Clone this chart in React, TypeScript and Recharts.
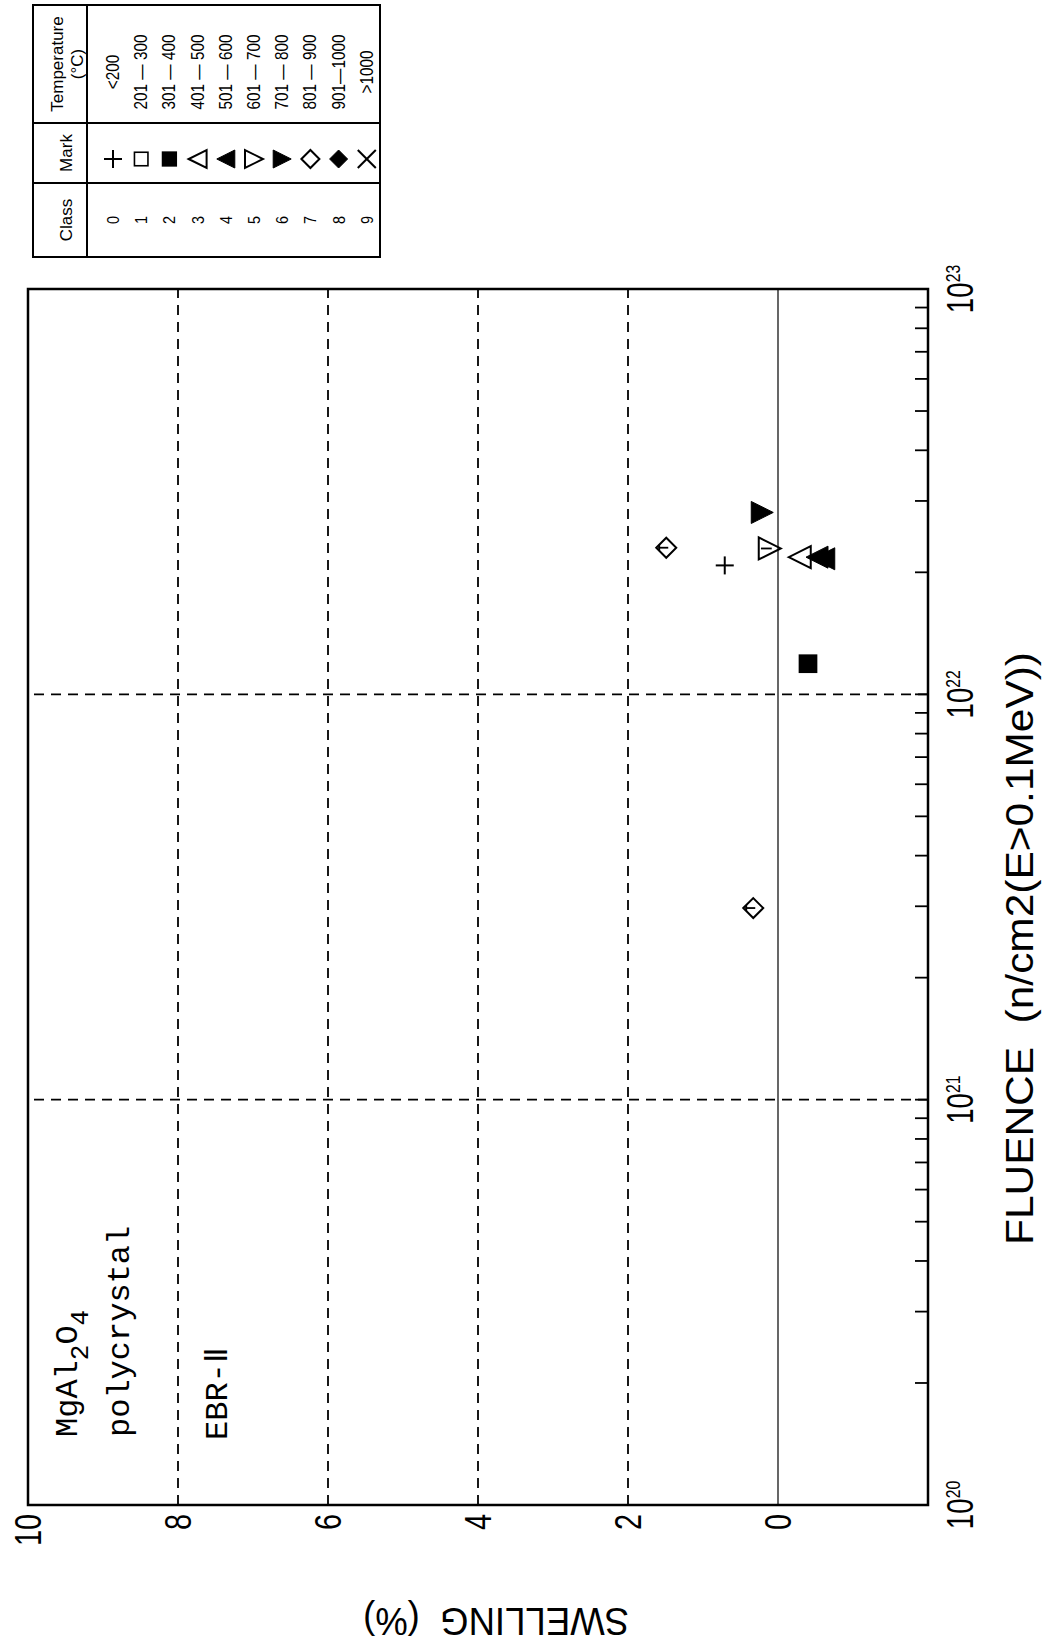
import React from 'react';
import { ScatterChart, Scatter, XAxis, YAxis, ReferenceLine, ReferenceArea } from 'recharts';

// fluence (n/cm2, E>0.1MeV), swelling (%) and temperature class of each point
const fluence = [2.3e22, 2.97e21, 2.08e22, 2.81e22, 2.29e22, 2.18e22, 2.18e22, 2.16e22, 1.19e22];
const swelling = [1.49, 0.33, 0.71, 0.21, 0.11, -0.29, -0.52, -0.61, -0.4];
const tempClass = [7, 7, 0, 6, 5, 3, 4, 4, 2];

// legend table
const classIds = [0, 1, 2, 3, 4, 5, 6, 7, 8, 9];
const tempRanges = [
  '<200', '201 — 300', '301 — 400', '401 — 500', '501 — 600',
  '601 — 700', '701 — 800', '801 — 900', '901—1000', '>1000',
];

// axes
const fluenceDecades = [1e20, 1e21, 1e22, 1e23];
const fluenceExponents = ['20', '21', '22', '23'];
const minorSteps = [2, 3, 4, 5, 6, 7, 8, 9];
const swellingTicks = [0, 2, 4, 6, 8, 10];
const swellingDashed = [2, 4, 6, 8];
const fluenceDashed = [1e21, 1e22];

const data = fluence.map((f, i) => ({ fluence: f, swelling: swelling[i], cls: tempClass[i] }));
const fluenceTicks = [
  ...fluenceDecades,
  ...fluenceDecades.slice(0, -1).flatMap((d) => minorSteps.map((m) => m * d)),
].sort((a, b) => a - b);

// the whole figure is drawn upright and then turned 90deg counter-clockwise
const W = 1649;
const H = 1045;
const FONT = '"Liberation Sans", Arial, sans-serif';
const MONO = '"Liberation Mono", "Courier New", monospace';

function Mark({ cls, cx, cy, r }: { cls: number; cx: number; cy: number; r: number }) {
  const sw = 2;
  const tri = (up: boolean) =>
    up
      ? `${cx},${cy - r} ${cx - r},${cy + r} ${cx + r},${cy + r}`
      : `${cx - r},${cy - r} ${cx + r},${cy - r} ${cx},${cy + r}`;
  const dia = `${cx},${cy - r} ${cx + r},${cy} ${cx},${cy + r} ${cx - r},${cy}`;
  switch (cls) {
    case 0:
      return (
        <g stroke="#000" strokeWidth={sw}>
          <line x1={cx - r} y1={cy} x2={cx + r} y2={cy} />
          <line x1={cx} y1={cy - r} x2={cx} y2={cy + r} />
        </g>
      );
    case 1:
      return <rect x={cx - r * 0.75} y={cy - r * 0.75} width={r * 1.5} height={r * 1.5} fill="none" stroke="#000" strokeWidth={1.6} />;
    case 2:
      return <rect x={cx - r * 0.85} y={cy - r * 0.85} width={r * 1.7} height={r * 1.7} fill="#000" />;
    case 3:
      return <polygon points={tri(true)} fill="none" stroke="#000" strokeWidth={sw} />;
    case 4:
      return <polygon points={tri(true)} fill="#000" stroke="#000" strokeWidth={1} />;
    case 5:
      return <polygon points={tri(false)} fill="none" stroke="#000" strokeWidth={sw} />;
    case 6:
      return <polygon points={tri(false)} fill="#000" stroke="#000" strokeWidth={1} />;
    case 7:
      return <polygon points={dia} fill="none" stroke="#000" strokeWidth={sw} />;
    case 8:
      return <polygon points={dia} fill="#000" stroke="#000" strokeWidth={1} />;
    default:
      return (
        <g stroke="#000" strokeWidth={sw}>
          <line x1={cx - r} y1={cy - r} x2={cx + r} y2={cy + r} />
          <line x1={cx - r} y1={cy + r} x2={cx + r} y2={cy - r} />
        </g>
      );
  }
}

const renderPoint = (props: any) => {
  const { cx, cy, payload } = props;
  const cls = payload.cls;
  const r = cls === 7 ? 10 : cls === 0 ? 9 : 11;
  return (
    <g>
      <Mark cls={cls} cx={cx} cy={cy} r={r} />
      {(cls === 7 || cls === 5) && (
        <g stroke="#000" strokeWidth={1.8}>
          <line x1={cx} y1={cy - r * 0.8} x2={cx} y2={cy + 2} />
          {cls === 7 && <line x1={cx - 3} y1={cy - r * 0.7} x2={cx + 3} y2={cy - r * 0.7} />}
        </g>
      )}
    </g>
  );
};

const FluenceTick = (props: any) => {
  const { x, y, payload } = props;
  const idx = fluenceDecades.indexOf(payload.value);
  return (
    <g>
      <line x1={x} y1={y} x2={x} y2={y - 13} stroke="#000" strokeWidth={1.8} />
      {idx >= 0 && (
        <g transform={`translate(${x},${y + 45}) scale(0.75,1)`}>
          <text textAnchor="middle" fill="#000" fontFamily={FONT}>
            <tspan fontSize={37}>10</tspan>
            <tspan fontSize={21} dy={-13}>{fluenceExponents[idx]}</tspan>
          </text>
        </g>
      )}
    </g>
  );
};

const SwellingTick = (props: any) => {
  const { x, y, payload } = props;
  return (
    <g transform={`translate(${x - 9},${y}) scale(0.78,1)`}>
      <text textAnchor="end" dy="0.36em" fontSize={37} fill="#000" fontFamily={FONT}>
        {payload.value}
      </text>
    </g>
  );
};

function Overlay() {
  const left = 1392;
  const right = 1644;
  const top = 33;
  const bottom = 380;
  const headBottom = 87;
  const col1 = 1466;
  const col2 = 1526;
  return (
    <svg width={W} height={H} style={{ position: 'absolute', left: 0, top: 0, pointerEvents: 'none' }}>
      {/* legend table */}
      <g stroke="#000" strokeWidth={2} fill="none">
        <rect x={left} y={top} width={right - left} height={bottom - top} />
        <line x1={left} y1={headBottom} x2={right} y2={headBottom} />
        <line x1={col1} y1={top} x2={col1} y2={bottom} />
        <line x1={col2} y1={top} x2={col2} y2={bottom} />
      </g>
      <g fontFamily={FONT} fill="#000" fontSize={17} textAnchor="middle">
        <text x={(left + col1) / 2} y={72}>Class</text>
        <text x={(col1 + col2) / 2} y={72}>Mark</text>
        <text x={(col2 + right) / 2} y={63}>Temperature</text>
        <text x={(col2 + right) / 2} y={83}>(°C)</text>
      </g>
      {classIds.map((c, i) => {
        const cy = 113 + 28.2 * i;
        return (
          <g key={c}>
            <g transform={`translate(${(left + col1) / 2},${cy + 6}) scale(0.85,1)`}>
              <text textAnchor="middle" fontSize={17} fontFamily={FONT} fill="#000">{c}</text>
            </g>
            <Mark cls={c} cx={(col1 + col2) / 2 - 6} cy={cy} r={9} />
            <g transform={`translate(${(col2 + right) / 2 - 8},${cy + 6}) scale(0.85,1)`}>
              <text textAnchor="middle" fontSize={18} fontFamily={FONT} fill="#000">{tempRanges[c]}</text>
            </g>
          </g>
        );
      })}

      {/* specimen note */}
      <g fontFamily={MONO} fontSize={32} fill="#000">
        <text x={212} y={77}>
          MgAl<tspan fontSize={26} dy={11}>2</tspan>
          <tspan dy={-11}>O</tspan>
          <tspan fontSize={26} dy={11}>4</tspan>
        </text>
        <text x={212} y={129}>polycrystal</text>
        <text x={209} y={227}>EBR-Ⅱ</text>
      </g>

      {/* axis titles */}
      <text x={404} y={1033} fontSize={39} fontFamily={FONT} fill="#000" textLength={593} lengthAdjust="spacingAndGlyphs">
        FLUENCE{'\u00a0\u00a0'}(n/cm2(E&gt;0.1MeV))
      </text>
      <text
        x={41}
        y={629}
        transform="rotate(-90 41 629)"
        fontSize={39}
        fontFamily={FONT}
        fill="#000"
        textLength={266}
        lengthAdjust="spacingAndGlyphs"
      >
        SWELLING{'\u00a0\u00a0'}(%)
      </text>
    </svg>
  );
}

export default function App() {
  return (
    <div style={{ position: 'absolute', left: 0, top: 0, width: H, height: W, overflow: 'hidden', background: '#fff' }}>
      <div
        style={{
          position: 'absolute',
          left: 0,
          top: 0,
          width: W,
          height: H,
          transformOrigin: '0 0',
          transform: `translate(0px, ${W}px) rotate(-90deg)`,
        }}
      >
        <ScatterChart width={W} height={H} margin={{ top: 28, right: 289, bottom: 57, left: 84 }}>
          <XAxis
            type="number"
            dataKey="fluence"
            scale="log"
            domain={[1e20, 1e23]}
            allowDataOverflow
            ticks={fluenceTicks}
            interval={0}
            tickSize={0}
            tickMargin={0}
            tickLine={false}
            axisLine={false}
            height={60}
            tick={<FluenceTick />}
          />
          <YAxis
            type="number"
            dataKey="swelling"
            domain={[-2, 10]}
            allowDataOverflow
            ticks={swellingTicks}
            interval={0}
            tickSize={0}
            tickMargin={0}
            tickLine={false}
            axisLine={false}
            width={60}
            tick={<SwellingTick />}
          />
          {swellingDashed.map((v) => (
            <ReferenceLine key={`s${v}`} y={v} stroke="#000" strokeWidth={1.8} strokeDasharray="10 7" />
          ))}
          {fluenceDashed.map((v) => (
            <ReferenceLine key={`f${v}`} x={v} stroke="#000" strokeWidth={1.8} strokeDasharray="10 7" />
          ))}
          <ReferenceLine y={0} stroke="#000" strokeWidth={1.2} />
          <ReferenceArea x1={1e20} x2={1e23} y1={-2} y2={10} fill="none" fillOpacity={0} stroke="#000" strokeWidth={2.5} />
          <Scatter data={data} shape={renderPoint} isAnimationActive={false} />
        </ScatterChart>
      </div>
      <div
        style={{
          position: 'absolute',
          left: 0,
          top: 0,
          width: W,
          height: H,
          transformOrigin: '0 0',
          transform: `translate(0px, ${W}px) rotate(-90deg)`,
          pointerEvents: 'none',
        }}
      >
        <Overlay />
      </div>
    </div>
  );
}
